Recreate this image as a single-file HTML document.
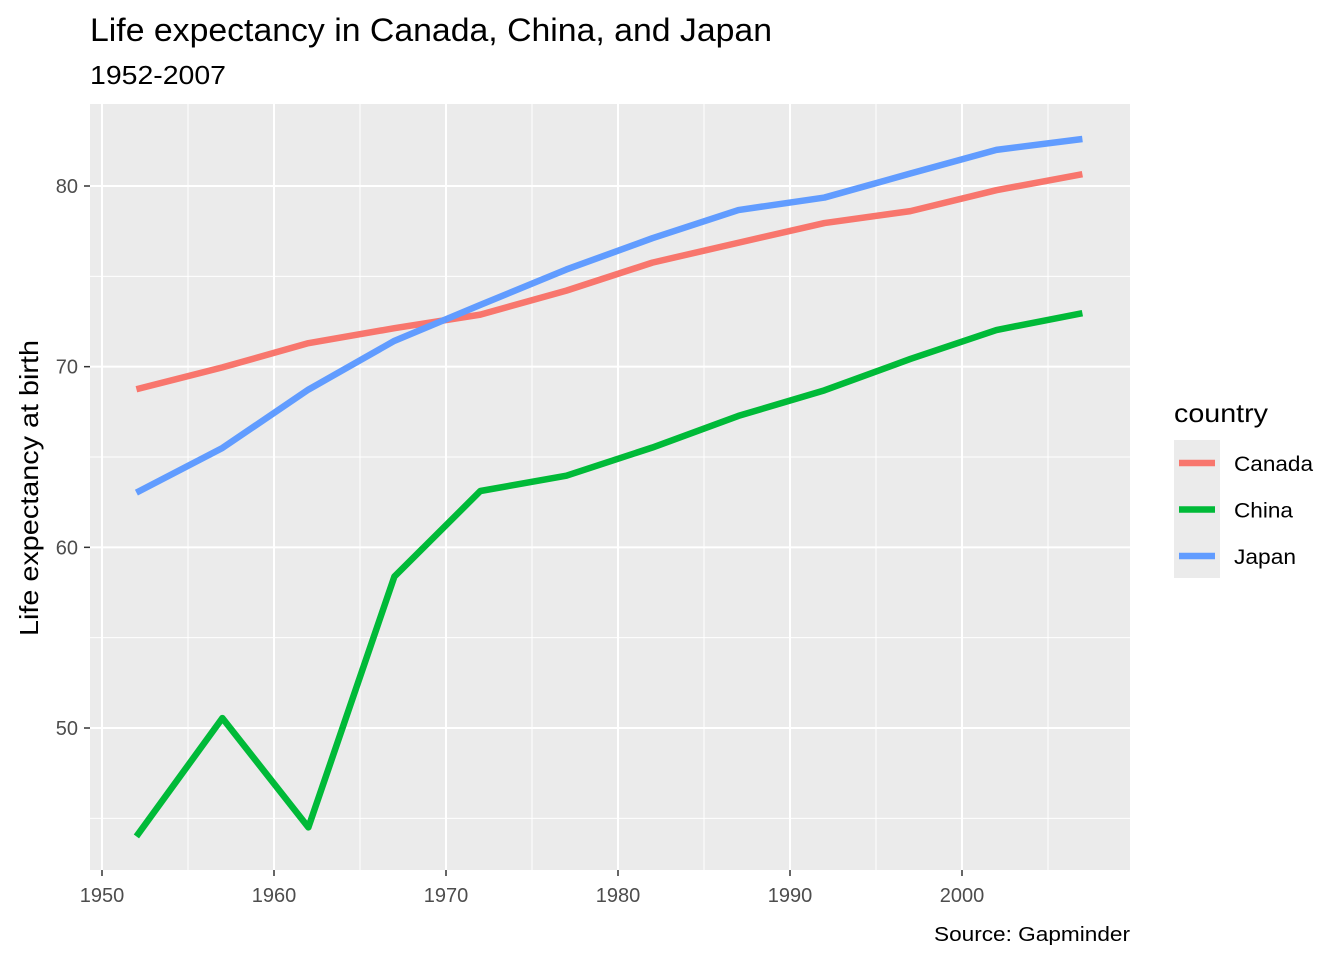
<!DOCTYPE html>
<html><head><meta charset="utf-8"><style>
body{margin:0;background:#fff;font-family:"Liberation Sans",Arial,sans-serif;}
svg text{font-family:"Liberation Sans",Arial,sans-serif;}
</style></head><body>
<svg id="chart" width="1344" height="960" xmlns="http://www.w3.org/2000/svg">
<text x="90" y="41" font-size="32" textLength="682" lengthAdjust="spacingAndGlyphs" fill="#000">Life expectancy in Canada, China, and Japan</text>
<text x="90" y="84" font-size="26" textLength="136" lengthAdjust="spacingAndGlyphs" fill="#000">1952-2007</text>
<rect x="90" y="104" width="1040" height="766" fill="#ebebeb"/>
<g id="grid"></g>
<g id="lines"></g>
<g id="axes"></g>
<text transform="translate(38,488) rotate(-90)" text-anchor="middle" font-size="26" textLength="296" lengthAdjust="spacingAndGlyphs" fill="#000">Life expectancy at birth</text>
<text x="1130" y="941" text-anchor="end" font-size="20" textLength="196" lengthAdjust="spacingAndGlyphs" fill="#000">Source: Gapminder</text>
<g>
<text x="1174" y="422" font-size="26" textLength="94" lengthAdjust="spacingAndGlyphs" fill="#000">country</text>
<rect x="1174" y="440" width="46" height="138" fill="#ebebeb"/>
<g id="legend"></g>
</g>
</svg>
<script>
const years=[1952,1957,1962,1967,1972,1977,1982,1987,1992,1997,2002,2007];
const canada=[68.75,69.96,71.3,72.13,72.88,74.21,75.76,76.86,77.95,78.61,79.77,80.653];
const china=[44,50.549,44.501,58.381,63.119,63.967,65.525,67.274,68.69,70.426,72.028,72.961];
const japan=[63.03,65.5,68.73,71.43,73.42,75.38,77.11,78.67,79.36,80.69,82,82.603];
const seriesNames=["Canada","China","Japan"];
const legendWidths=[79,59,62];
const colors=["#f8766d","#00ba38","#619cff"];
const xTicks=[1950,1960,1970,1980,1990,2000];
const yTicks=[50,60,70,80];
const NS="http://www.w3.org/2000/svg";
const sx=v=>102+(v-1950)*17.2;
const sy=v=>186+(80-v)*18.067;
function mk(tag,attrs,parent){const e=document.createElementNS(NS,tag);for(const k in attrs)e.setAttribute(k,attrs[k]);parent.appendChild(e);return e;}
const grid=document.getElementById('grid'),axes=document.getElementById('axes'),lines=document.getElementById('lines'),legend=document.getElementById('legend');
xTicks.forEach(t=>{
 const m=mk('line',{x1:sx(t+5),x2:sx(t+5),y1:104,y2:870,stroke:'#fff','stroke-width':1},grid);
 
 
 const g=mk('line',{x1:sx(t),x2:sx(t),y1:104,y2:870,stroke:'#fff','stroke-width':2},grid);
 
 
 const tk=mk('line',{x1:sx(t),x2:sx(t),y1:870,y2:876,stroke:'#333','stroke-width':1.5},axes);
 
 
 const tx=mk('text',{x:sx(t),y:902,'text-anchor':'middle','font-size':20,fill:'#4d4d4d'},axes);
 tx.textContent=t;
 
 
});
[45,55,65,75].forEach(t=>{
 const m=mk('line',{x1:90,x2:1130,y1:sy(t),y2:sy(t),stroke:'#fff','stroke-width':1},grid);
 
 
});
yTicks.forEach(t=>{
 const g=mk('line',{x1:90,x2:1130,y1:sy(t),y2:sy(t),stroke:'#fff','stroke-width':2},grid);
 
 
 const tk=mk('line',{x1:84,x2:90,y1:sy(t),y2:sy(t),stroke:'#333','stroke-width':1.5},axes);
 
 
 const tx=mk('text',{x:78,y:sy(t)+7,'text-anchor':'end','font-size':20,fill:'#4d4d4d'},axes);
 tx.textContent=t;
 
 
});
[canada,china,japan].forEach((s,i)=>{
 const p=mk('polyline',{points:s.map((v,j)=>sx(years[j])+','+sy(v)).join(' '),fill:'none',stroke:colors[i],'stroke-width':6.5,'stroke-linejoin':'round'},lines);
 
 
 const ly=463+i*46.5;
 const k=mk('line',{x1:1179,x2:1215,y1:ly,y2:ly,stroke:colors[i],'stroke-width':6.5},legend);
 
 
 const t=mk('text',{x:1234,y:ly+8,'font-size':21,fill:'#000',textLength:legendWidths[i],lengthAdjust:'spacingAndGlyphs'},legend);
 t.textContent=seriesNames[i];
 
 
});
</script>
</body></html>
